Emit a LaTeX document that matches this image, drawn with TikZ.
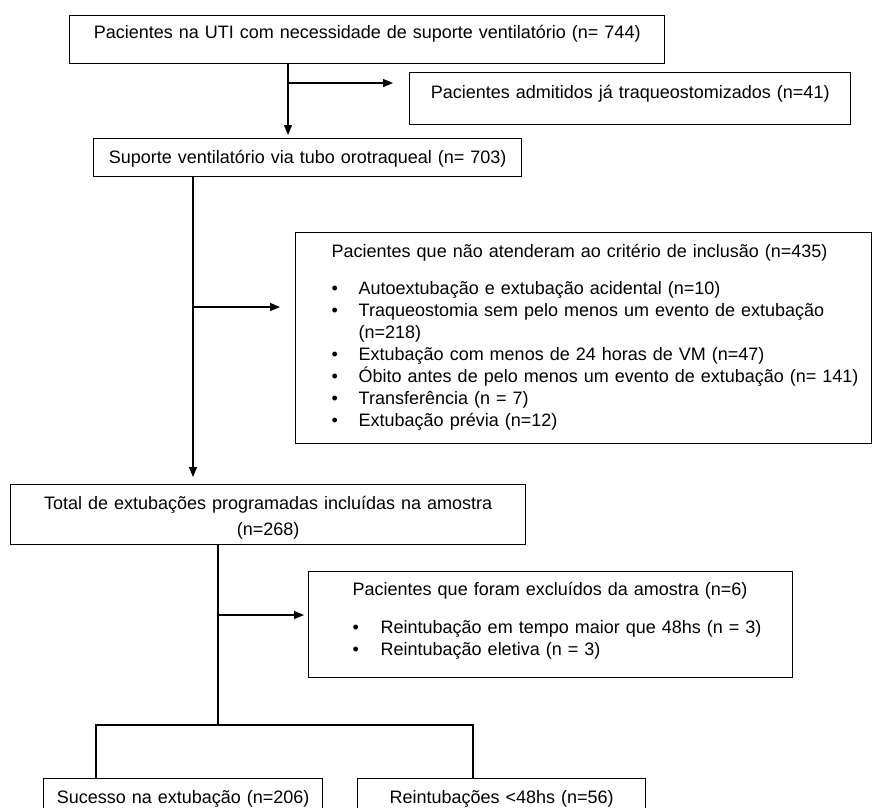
\documentclass[tikz,border=0pt]{standalone}
\usepackage{fontspec}
\setmainfont{Liberation Sans}
\usetikzlibrary{calc,arrows.meta}
\newcommand{\BulletItem}[2][27pt]{\par\hangindent=#1\hangafter=1\noindent\makebox[#1][l]{\textbullet}#2}

\begin{document}
\begin{tikzpicture}[x=1pt,y=-1pt,
  flowBox/.style={draw,line width=1.4pt,anchor=north west,inner sep=0pt,font=\fontsize{18}{22}\selectfont},
  flowLine/.style={line width=1.2pt},
  flowArrow/.style={flowLine,-{Triangle[length=10pt,width=8pt]}}]
\useasboundingbox (0,0) rectangle (874,807);
\node[flowBox,text width=595pt,align=center,text height=23pt,text depth=25pt] (uti) at (69,15) {Pacientes na UTI com necessidade de suporte ventilatório (n= 744)};
\node[flowBox,text width=441pt,align=center,text height=26pt,text depth=26pt] (adm) at (409,72) {Pacientes admitidos já traqueostomizados (n=41)};
\node[flowBox,text width=428pt,align=center,text height=25pt,text depth=13pt] (oro) at (93,138) {Suporte ventilatório via tubo orotraqueal (n= 703)};
\node[flowBox,text width=576pt,align=left,text height=25pt,text depth=186pt] (crit) at (295,232) {\leftskip=36pt
Pacientes que não atenderam ao critério de inclusão (n=435)\par\vspace{15pt}
\BulletItem{Autoextubação e extubação acidental (n=10)}
\BulletItem{Traqueostomia sem pelo menos um evento de extubação\newline (n=218)}
\BulletItem{Extubação com menos de 24 horas de VM (n=47)}
\BulletItem{Óbito antes de pelo menos um evento de extubação (n= 141)}
\BulletItem{Transferência (n = 7)}
\BulletItem{Extubação prévia (n=12)}\par};
\node[flowBox,text width=515pt,align=center,text height=25pt,text depth=35pt] (total) at (10,484) {Total de extubações programadas incluídas na amostra\\[4pt](n=268)};
\node[flowBox,text width=484pt,align=left,text height=24pt,text depth=82pt] (excl) at (308,571) {\leftskip=44pt
Pacientes que foram excluídos da amostra (n=6)\par\vspace{16pt}
\BulletItem[28pt]{Reintubação em tempo maior que 48hs (n = 3)}
\BulletItem[28pt]{Reintubação eletiva (n = 3)}\par};
\node[flowBox,text width=279pt,align=center,text height=25pt,text depth=40pt] (succ) at (43,778) {Sucesso na extubação (n=206)};
\node[flowBox,text width=288pt,align=center,text height=25pt,text depth=40pt] (reint) at (357,778) {Reintubações <48hs (n=56)};
% trunks and side branches
\coordinate (trunkA) at (288,0);
\coordinate (forkA) at (288,83);
\coordinate (trunkB) at (193,0);
\coordinate (forkB) at (193,307);
\coordinate (forkC) at (218,615);
\coordinate (splitC) at (218,725);
\coordinate (splitL) at (96,725);
\coordinate (splitR) at (473,725);
\draw[flowArrow,shorten >=3pt] (uti.south -| trunkA) -- (oro.north -| trunkA);
\draw[flowArrow] (forkA) -- ($(forkA -| adm.west)+(-16,0)$);
\draw[flowArrow,shorten >=7pt] (oro.south -| trunkB) -- (total.north -| trunkB);
\draw[flowArrow] (forkB) -- ($(forkB -| crit.west)+(-15,0)$);
\draw[flowLine] (total.south -| splitC) -- (splitC);
\draw[flowArrow] (forkC) -- ($(forkC -| excl.west)+(-4,0)$);
\draw[flowLine] (succ.north -| splitL) -- (splitL) -- (splitR) -- (reint.north -| splitR);
\end{tikzpicture}
\end{document}
